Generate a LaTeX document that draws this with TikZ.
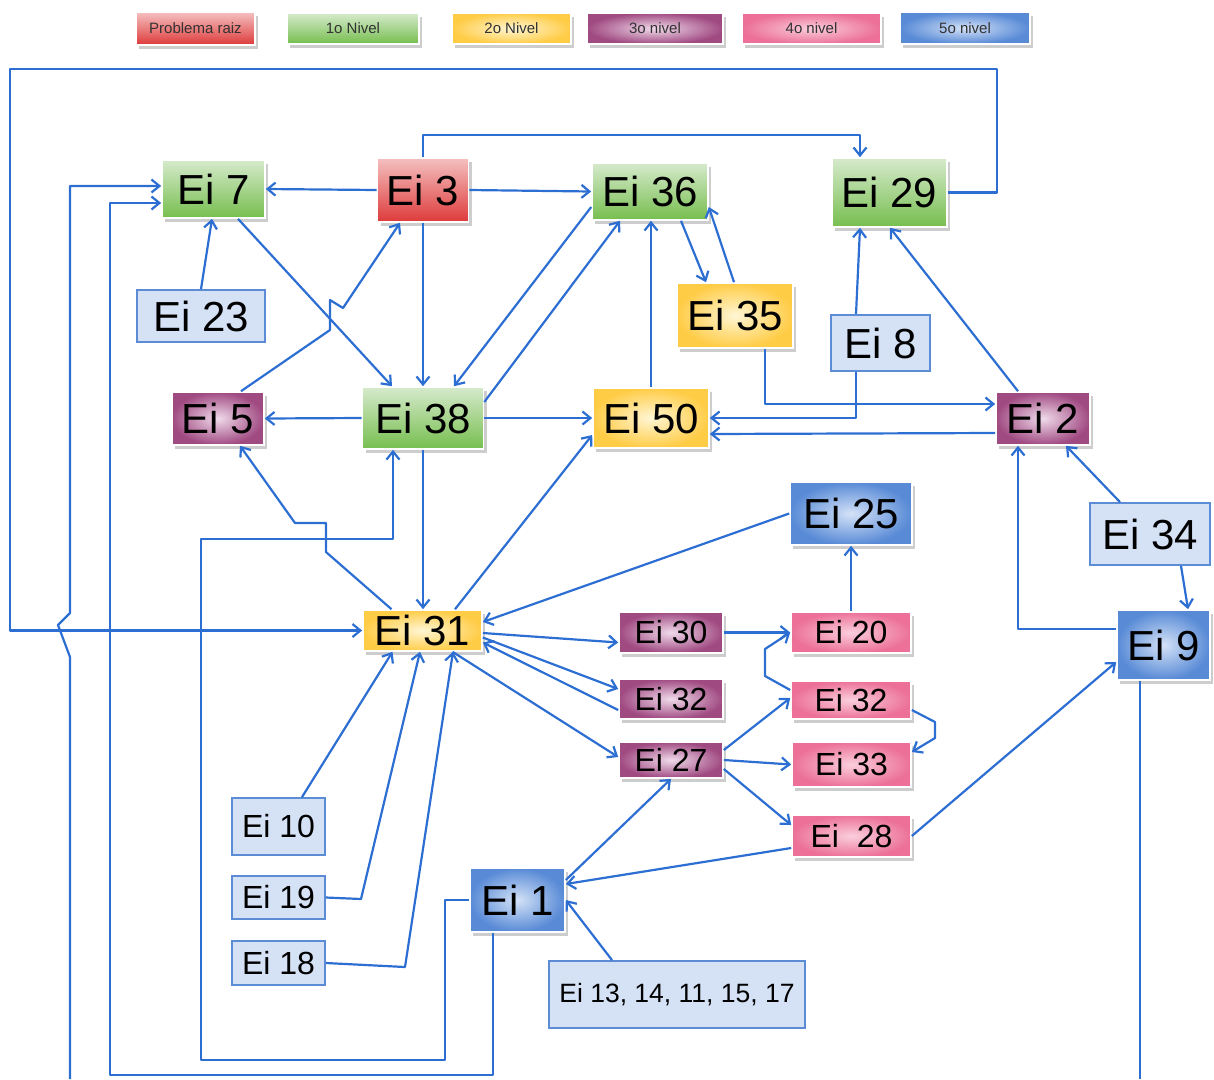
\documentclass[tikz,border=0pt]{standalone}
\usepackage{fontspec}
\setmainfont{Liberation Sans}
\usetikzlibrary{arrows.meta,shadows,calc}

\definecolor{linkblue}{RGB}{45,110,210}
\definecolor{rootTop}{RGB}{245,192,192}
\definecolor{rootBot}{RGB}{222,58,58}
\definecolor{lvOneTop}{RGB}{214,234,204}
\definecolor{lvOneBot}{RGB}{118,190,78}
\definecolor{lvTwoIn}{RGB}{255,246,212}
\definecolor{lvTwoOut}{RGB}{255,204,70}
\definecolor{lvThreeIn}{RGB}{240,218,234}
\definecolor{lvThreeOut}{RGB}{160,74,130}
\definecolor{lvFourIn}{RGB}{250,206,220}
\definecolor{lvFourOut}{RGB}{236,112,152}
\definecolor{lvFiveIn}{RGB}{212,226,247}
\definecolor{lvFiveOut}{RGB}{88,138,214}
\definecolor{plainFill}{RGB}{213,225,245}
\definecolor{plainEdge}{RGB}{92,140,214}
\definecolor{legendText}{RGB}{50,50,50}

\tikzset{
  box/.style={rectangle, inner sep=0pt, text=black},
  shade box/.style={box, draw=white, line width=1.6pt,
    drop shadow={shadow xshift=3pt, shadow yshift=-3.5pt, opacity=0.28, fill=black!70}},
  root/.style={shade box, top color=rootTop, bottom color=rootBot},
  lvone/.style={shade box, top color=lvOneTop, bottom color=lvOneBot},
  lvtwo/.style={shade box, inner color=lvTwoIn, outer color=lvTwoOut},
  lvthree/.style={shade box, inner color=lvThreeIn, outer color=lvThreeOut},
  lvfour/.style={shade box, inner color=lvFourIn, outer color=lvFourOut},
  lvfive/.style={shade box, inner color=lvFiveIn, outer color=lvFiveOut},
  plain/.style={box, fill=plainFill, draw=plainEdge, line width=1.8pt},
  bigtxt/.style={font=\fontsize{42}{42}\selectfont},
  midtxt/.style={font=\fontsize{32}{32}\selectfont},
  smalltxt/.style={font=\fontsize{26.5}{26.5}\selectfont},
  legtxt/.style={font=\fontsize{15}{15}\selectfont, text=legendText},
  sz/.style 2 args={minimum width=#1pt, minimum height=#2pt},
  conn/.style={draw=linkblue, line width=2.2pt, line join=round,
    -{Straight Barb[length=8pt,width=13pt]}},
  plainline/.style={draw=linkblue, line width=2.2pt, line join=round}
}

\begin{document}
\begin{tikzpicture}[x=1pt,y=-1pt]
\useasboundingbox (0,0) rectangle (1214,1079);

% legend
\node[root,legtxt,sz={119}{33}]   (legRoot)  at (195.5,28.5) {Problema raiz};
\node[lvone,legtxt,sz={132}{31}]  (legOne)   at (353,28.5)   {1o Nivel};
\node[lvtwo,legtxt,sz={119}{31}]  (legTwo)   at (511.5,28.5) {2o Nivel};
\node[lvthree,legtxt,sz={136}{31}](legThree) at (655,28.5)   {3o nivel};
\node[lvfour,legtxt,sz={139}{31}] (legFour)  at (811.5,28.5) {4o nivel};
\node[lvfive,legtxt,sz={130}{32}] (legFive)  at (965,28)     {5o nivel};

% causes
\node[lvone,bigtxt,sz={103}{58}]   (ei7)  at (213.5,189)  {Ei 7};
\node[root,bigtxt,sz={91}{64}]     (ei3)  at (423,190)    {Ei 3};
\node[lvone,bigtxt,sz={116}{57}]   (ei36) at (650,191.5)  {Ei 36};
\node[lvone,bigtxt,sz={115}{69}]   (ei29) at (889.5,192.5){Ei 29};
\node[plain,bigtxt,sz={128}{52}]   (ei23) at (201,316)    {Ei 23};
\node[lvtwo,bigtxt,sz={116}{65}]   (ei35) at (735,315.5)  {Ei 35};
\node[plain,bigtxt,sz={99}{56}]    (ei8)  at (880.5,343)  {Ei 8};
\node[lvthree,bigtxt,sz={92}{53}]  (ei5)  at (218,418.5)  {Ei 5};
\node[lvone,bigtxt,sz={121}{62}]   (ei38) at (423,418)    {Ei 38};
\node[lvtwo,bigtxt,sz={116}{60}]   (ei50) at (651,418)    {Ei 50};
\node[lvthree,bigtxt,sz={94}{53}]  (ei2)  at (1043,418.5) {Ei 2};
\node[lvfive,bigtxt,sz={122}{63}]  (ei25) at (851,513.5)  {Ei 25};
\node[plain,bigtxt,sz={120}{62}]   (ei34) at (1150,534)   {Ei 34};
\node[lvtwo,bigtxt,sz={119}{41}]   (ei31) at (422.5,630.5){Ei 31};
\node[lvthree,midtxt,sz={104}{41}] (ei30) at (671,632.5)  {Ei 30};
\node[lvfour,midtxt,sz={120}{41}]  (ei20) at (851,632.5)  {Ei 20};
\node[lvfive,bigtxt,sz={93}{70}]   (ei9)  at (1163.5,645) {Ei 9};
\node[lvthree,midtxt,sz={104}{40}] (ei32p) at (671,699)   {Ei 32};
\node[lvfour,midtxt,sz={120}{38}]  (ei32k) at (851,700)   {Ei 32};
\node[lvthree,midtxt,sz={104}{36}] (ei27) at (671,760)    {Ei 27};
\node[lvfour,midtxt,sz={119}{45}]  (ei33) at (851.5,764.5){Ei 33};
\node[lvfour,midtxt,sz={119}{42}]  (ei28) at (851.5,836)  {Ei\ \ 28};
\node[plain,midtxt,sz={93}{57}]    (ei10) at (278.5,826.5){Ei 10};
\node[plain,midtxt,sz={93}{43}]    (ei19) at (278.5,897.5){Ei 19};
\node[plain,midtxt,sz={93}{44}]    (ei18) at (278.5,963)  {Ei 18};
\node[lvfive,bigtxt,sz={95}{64}]   (ei1)  at (517.5,900)  {Ei 1};
\node[plain,smalltxt,sz={256}{67}] (ei13) at (677,994.5)  {Ei 13, 14, 11, 15, 17};

% free ends running off the lower edge
\coordinate (loopA) at (70,1079);
\coordinate (loopB) at (1140,1079);

% connectors
\draw[conn] (ei29.east) -| (997,69) -- (10,69) |- (ei31.west);
\draw[conn] (ei3.north) -- ++(0,-22) -| ([xshift=-29.5pt]ei29.north);
\draw[conn] (ei3.west) -- (ei7.east);
\draw[conn] (ei3.east) -- (ei36.west);
\draw[conn] (ei3.south) -- (ei38.north);
\draw[conn] ([xshift=24.5pt]ei7.south) -- ([xshift=-31pt]ei38.north);
\draw[conn] (ei23.north) -- ([xshift=-1.5pt]ei7.south);
\draw[conn] (loopA) -- (70,657) -- (58,625) -- (70,613) |- ([yshift=3pt]ei7.west);
\draw[conn] ([xshift=-24.5pt]ei1.south) |- (110,1075) |- ([yshift=-14pt]ei7.west);
\draw[conn] (ei1.west) -- (445,900) -- (445,1060) -- (201,1060) -- (201,539) -| ([xshift=-30pt]ei38.south);
\draw[conn] (ei38.west) -- (ei5.east);
\draw[conn] (ei38.east) -- (ei50.west);
\draw[conn] (ei38.south) -- (ei38.south |- ei31.north);
\draw[conn] ([yshift=16pt]ei38.east) -- ([xshift=-30pt]ei36.south);
\draw[conn] ([yshift=-15.5pt]ei36.west) -- ([xshift=31pt]ei38.north);
\draw[conn] (ei50.north) -- (ei50.north |- ei36.south);
\draw[conn] ([xshift=31pt]ei36.south) -- ([xshift=-29pt]ei35.north);
\draw[conn] ([xshift=-1pt]ei35.north) -- ([yshift=-15.5pt]ei36.east);
\draw[conn] ([xshift=30pt]ei35.south) |- ([yshift=14.5pt]ei2.west);
\draw[conn] ([xshift=-24.5pt]ei8.south) |- (ei50.east);
\draw[conn] ([yshift=-14.5pt]ei2.west) -- ([yshift=-16pt]ei50.east);
\draw[conn] ([xshift=-24.5pt]ei8.north) -- ([xshift=-29.5pt]ei29.south);
\draw[conn] ([xshift=-25pt]ei2.north) -- ([xshift=0.5pt]ei29.south);
\draw[conn] ([xshift=-30pt]ei34.north) -- ([xshift=23pt]ei2.south);
\draw[conn] ([xshift=31pt]ei34.south) -- ([xshift=24.5pt]ei9.north);
\draw[conn] ([yshift=16pt]ei9.west) -| ([xshift=-25pt]ei2.south);
\draw[plainline] ([xshift=-23.5pt]ei9.south) -- (loopB);
\draw[conn] (ei28.east) -- ([yshift=-17pt]ei9.west);
\draw[conn] (ei20.north) -- (ei25.south);
\draw[conn] (ei25.west) -- ([yshift=8.5pt]ei31.east);
\draw[conn] ([xshift=32.5pt]ei31.north) -- ([yshift=-17pt]ei50.west);
\draw[conn] ([xshift=-31pt]ei31.north) -- (326,552) -- (326,523) -- (295,523) -- ([xshift=22pt]ei5.south);
\draw[conn] ([yshift=-2.5pt]ei31.east) -- ([yshift=-10pt]ei30.west);
\draw[conn] ([yshift=-7pt]ei31.east) -- ([yshift=10pt]ei32p.west);
\draw[conn] ([yshift=-11pt]ei32p.west) -- ([yshift=-12pt]ei31.east);
\draw[conn] ([xshift=30pt]ei31.south) -- ([yshift=3pt]ei27.west);
\draw[conn] (ei30.east) -- (ei20.west);
\draw[conn] ([yshift=10pt]ei32k.west) -- (765,676) -- (765,649) -- (ei20.west);
\draw[conn] ([yshift=-10pt]ei32k.east) -- (935,722) -- (935,738) -- ([yshift=12.5pt]ei33.east);
\draw[conn] ([yshift=10pt]ei27.east) -- ([yshift=2pt]ei32k.west);
\draw[conn] (ei27.east) -- (ei33.west);
\draw[conn] ([yshift=-9pt]ei27.east) -- ([yshift=11pt]ei28.west);
\draw[conn] ([yshift=-12pt]ei28.west) -- ([yshift=16pt]ei1.east);
\draw[conn] ([yshift=20pt]ei1.east) -- (ei27.south);
\draw[conn] ([xshift=-65pt]ei13.north) -- (ei1.east);
\draw[conn] ([xshift=23.5pt]ei10.north) -- ([xshift=-30pt]ei31.south);
\draw[conn] (ei19.east) -- (361,899) -- ([xshift=-2.5pt]ei31.south);
\draw[conn] (ei18.east) -- (405,967) -- ([xshift=30.5pt]ei31.south);
\draw[conn] ([xshift=23pt]ei5.north) -- (330,330) -- (330,300) -- (343,308) -- ([xshift=-23pt]ei3.south);
\end{tikzpicture}
\end{document}
